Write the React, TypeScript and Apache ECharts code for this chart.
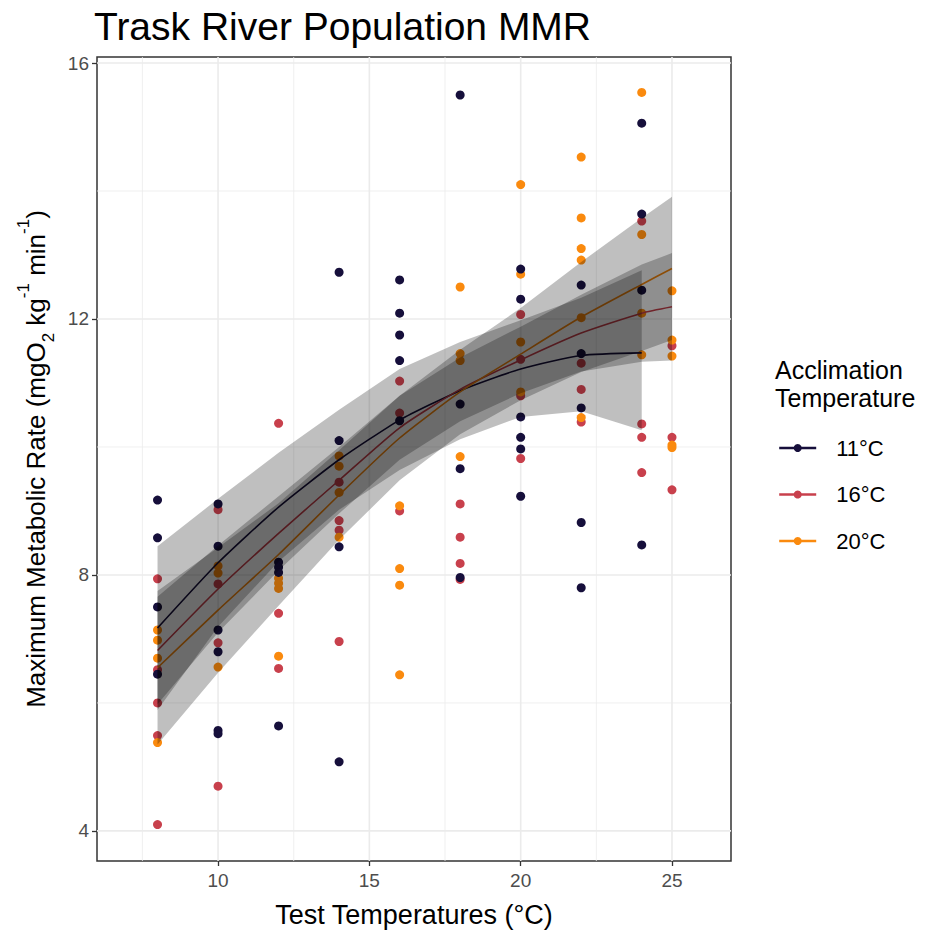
import React, { useEffect, useRef } from "react";
import * as echarts from "echarts";

const FONT = "'Liberation Sans', Arial, sans-serif";

const groups = ["11°C", "16°C", "20°C"];
const colors = ["#160F3B", "#C8404C", "#FA8A0E"];

// Observed points [test temperature, MMR]
const pts11: number[][] = [
  [8, 9.17], [8, 8.58], [8, 7.5], [8, 6.45],
  [10, 9.11], [10, 8.45], [10, 7.14], [10, 6.8], [10, 5.57], [10, 5.52],
  [12, 8.2], [12, 8.12], [12, 8.04], [12, 5.64],
  [14, 12.73], [14, 10.1], [14, 8.44], [14, 5.08],
  [16, 12.61], [16, 12.09], [16, 11.75], [16, 11.35], [16, 10.41],
  [18, 15.5], [18, 10.67], [18, 9.66], [18, 7.96],
  [20, 12.78], [20, 12.31], [20, 10.47], [20, 10.15], [20, 9.97], [20, 9.23],
  [22, 12.53], [22, 11.46], [22, 10.61], [22, 8.82], [22, 7.8],
  [24, 15.06], [24, 13.64], [24, 12.45], [24, 8.47],
];
const pts16: number[][] = [
  [8, 7.94], [8, 6.52], [8, 6.0], [8, 5.49], [8, 4.1],
  [10, 9.02], [10, 7.86], [10, 6.94], [10, 4.7],
  [12, 10.37], [12, 7.4], [12, 6.54],
  [14, 9.45], [14, 8.85], [14, 8.7], [14, 6.96],
  [16, 11.03], [16, 10.53], [16, 9.0],
  [18, 9.11], [18, 8.59], [18, 8.18], [18, 7.93],
  [20, 12.07], [20, 11.37], [20, 10.8], [20, 9.82],
  [22, 11.31], [22, 10.9], [22, 10.39],
  [24, 13.53], [24, 10.36], [24, 10.15], [24, 9.6],
  [25, 11.58], [25, 10.15], [25, 9.33],
];
const pts20: number[][] = [
  [8, 7.14], [8, 6.98], [8, 6.7], [8, 5.38],
  [10, 8.14], [10, 8.03], [10, 6.56],
  [12, 7.95], [12, 7.87], [12, 7.79], [12, 6.73],
  [14, 9.86], [14, 9.7], [14, 9.29], [14, 8.59],
  [16, 9.08], [16, 8.1], [16, 7.84], [16, 6.44],
  [18, 12.5], [18, 11.46], [18, 11.35], [18, 9.85],
  [20, 14.1], [20, 12.7], [20, 11.64], [20, 10.86],
  [22, 14.53], [22, 13.58], [22, 13.1], [22, 12.92], [22, 12.02], [22, 10.46],
  [24, 15.54], [24, 13.32], [24, 12.09], [24, 11.44],
  [25, 12.44], [25, 11.67], [25, 11.42], [25, 10.03], [25, 9.99],
];

// Fitted curves and confidence bands
const fitX11 = [8, 10, 12, 14, 16, 18, 20, 22, 24];
const fit11 = [7.17, 8.19, 9.06, 9.8, 10.42, 10.88, 11.22, 11.43, 11.47];
const lo11 = [5.89, 7.19, 8.21, 9.02, 9.64, 10.12, 10.47, 10.56, 10.26];
const hi11 = [8.45, 9.19, 9.91, 10.58, 11.22, 11.64, 11.98, 12.33, 12.76];

const fitX16 = [8, 10, 12, 14, 16, 18, 20, 22, 24, 25];
const fit16 = [6.82, 7.78, 8.65, 9.48, 10.3, 10.9, 11.36, 11.78, 12.09, 12.19];
const lo16 = [5.98, 7.1, 8.07, 8.96, 9.8, 10.4, 10.84, 11.18, 11.33, 11.35];
const hi16 = [7.66, 8.46, 9.23, 10.0, 10.8, 11.4, 11.88, 12.38, 12.85, 13.03];

const fitX20 = [8, 10, 12, 14, 16, 18, 20, 22, 24, 25];
const fit20 = [6.55, 7.45, 8.32, 9.25, 10.14, 10.86, 11.45, 12.03, 12.54, 12.79];
const lo20 = [5.35, 6.47, 7.52, 8.55, 9.48, 10.2, 10.73, 11.17, 11.5, 11.67];
const hi20 = [7.75, 8.43, 9.12, 9.95, 10.8, 11.52, 12.17, 12.89, 13.58, 13.91];

const xTicks = [10, 15, 20, 25];
const yTicks = [4, 8, 12, 16];
const xMinor = [7.5, 12.5, 17.5, 22.5];
const yMinor = [6, 10, 14];

const X_MIN = 6.0;
const X_MAX = 26.95;
const Y_MIN = 3.53;
const Y_MAX = 16.094;

const pointSets = [pts11, pts16, pts20];
const fitXs = [fitX11, fitX16, fitX20];
const fits = [fit11, fit16, fit20];
const los = [lo11, lo16, lo20];
const his = [hi11, hi16, hi20];

function gridLines(vals: number[], vertical: boolean, width: number) {
  return {
    type: "custom",
    silent: true,
    z: 1,
    clip: true,
    data: vals.map((v) => (vertical ? [v, Y_MIN] : [X_MIN, v])),
    renderItem: (params: any, api: any) => {
      const cs = params.coordSys;
      if (vertical) {
        const p = api.coord([api.value(0), Y_MIN]);
        return {
          type: "line",
          shape: { x1: p[0], y1: cs.y, x2: p[0], y2: cs.y + cs.height },
          style: { stroke: "#EBEBEB", lineWidth: width },
        };
      }
      const p = api.coord([X_MIN, api.value(1)]);
      return {
        type: "line",
        shape: { x1: cs.x, y1: p[1], x2: cs.x + cs.width, y2: p[1] },
        style: { stroke: "#EBEBEB", lineWidth: width },
      };
    },
  };
}

function band(i: number) {
  const xs = fitXs[i];
  const lo = los[i];
  const hi = his[i];
  return {
    type: "custom",
    silent: true,
    z: 4,
    data: xs.map((x, k) => [x, lo[k], hi[k]]),
    encode: { x: 0, y: [1, 2] },
    renderItem: (params: any, api: any) => {
      if (params.dataIndex !== 0) return null;
      const top = xs.map((x, k) => api.coord([x, hi[k]]));
      const bot = xs.map((x, k) => api.coord([x, lo[k]])).reverse();
      return {
        type: "polygon",
        shape: { points: top.concat(bot) },
        style: { fill: "rgba(0,0,0,0.25)", stroke: "none" },
      };
    },
  };
}

export default function App() {
  const ref = useRef<HTMLDivElement>(null);
  useEffect(() => {
    const chart = echarts.init(ref.current!, null, { renderer: "svg" });

    const lineSeries = groups.map((g, i) => ({
      type: "line",
      name: g,
      z: 3,
      symbol: "circle",
      showSymbol: false,
      silent: true,
      smooth: 0.2,
      color: colors[i],
      lineStyle: { color: colors[i], width: 1.6 },
      data: fitXs[i].map((x, k) => [x, fits[i][k]]),
    }));

    const drawOrder = [1, 2, 0];
    const scatterSeries = drawOrder.map((i) => ({
      type: "scatter",
      name: groups[i],
      z: 2,
      symbol: "circle",
      symbolSize: 9,
      silent: true,
      itemStyle: { color: colors[i], opacity: 1 },
      data: pointSets[i],
    }));

    const option: any = {
      animation: false,
      backgroundColor: "#ffffff",
      textStyle: { fontFamily: FONT },
      title: [
        {
          text: "Trask River Population MMR",
          left: 94,
          top: 7,
          padding: 0,
          textStyle: { fontFamily: FONT, fontSize: 39, fontWeight: "normal", color: "#000" },
        },
        {
          text: "Acclimation\nTemperature",
          left: 775,
          top: 356,
          padding: 0,
          textStyle: { fontFamily: FONT, fontSize: 25, lineHeight: 28, fontWeight: "normal", color: "#000" },
        },
      ],
      legend: {
        data: groups,
        orient: "vertical",
        left: 778,
        top: 436,
        padding: 0,
        itemWidth: 37,
        itemHeight: 10,
        itemGap: 22.5,
        selectedMode: false,
        lineStyle: { width: 2.4 },
        textStyle: { fontFamily: FONT, fontSize: 22, color: "#000", padding: [0, 0, 0, 15], lineHeight: 24 },
      },
      grid: {
        left: 97,
        top: 57,
        width: 634,
        height: 804,
        show: true,
        borderColor: "#333333",
        borderWidth: 1.5,
        backgroundColor: "transparent",
        containLabel: false,
        outerBoundsMode: "none",
      },
      xAxis: {
        type: "value",
        min: X_MIN,
        max: X_MAX,
        name: "Test Temperatures (°C)",
        nameLocation: "middle",
        nameGap: 40,
        nameTextStyle: { fontFamily: FONT, fontSize: 27, color: "#000" },
        axisLine: { show: false },
        axisTick: { show: true, length: 5, customValues: xTicks, lineStyle: { color: "#333", width: 1.3 } },
        axisLabel: { customValues: xTicks, color: "#4D4D4D", fontSize: 19, margin: 10, fontFamily: FONT },
        splitLine: { show: false },
      },
      yAxis: {
        type: "value",
        min: Y_MIN,
        max: Y_MAX,
        name: "{a|Maximum Metabolic Rate (mgO}{b|2}{a| kg}{c|-1}{a| min}{c|-1}{a|)}",
        nameLocation: "middle",
        nameGap: 37,
        nameRotate: 90,
        nameTextStyle: {
          fontFamily: FONT,
          fontSize: 26,
          color: "#000",
          rich: {
            a: { fontFamily: FONT, fontSize: 26, color: "#000", lineHeight: 42 },
            b: { fontFamily: FONT, fontSize: 17, color: "#000", lineHeight: 27, verticalAlign: "bottom" },
            c: { fontFamily: FONT, fontSize: 17, color: "#000", lineHeight: 27, verticalAlign: "top" },
          },
        },
        axisLine: { show: false },
        axisTick: { show: true, length: 5, customValues: yTicks, lineStyle: { color: "#333", width: 1.3 } },
        axisLabel: { customValues: yTicks, color: "#4D4D4D", fontSize: 19, margin: 8, fontFamily: FONT },
        splitLine: { show: false },
      },
      series: [
        ...lineSeries,
        gridLines(xMinor, true, 0.8),
        gridLines(yMinor, false, 0.8),
        gridLines(xTicks, true, 1.6),
        gridLines(yTicks, false, 1.6),
        ...scatterSeries,
        band(0),
        band(1),
        band(2),
      ],
    };

    chart.setOption(option);
    return () => chart.dispose();
  }, []);

  return (
    <div
      ref={ref}
      style={{ position: "fixed", left: 0, top: 0, width: 927, height: 934, background: "#fff" }}
    />
  );
}
